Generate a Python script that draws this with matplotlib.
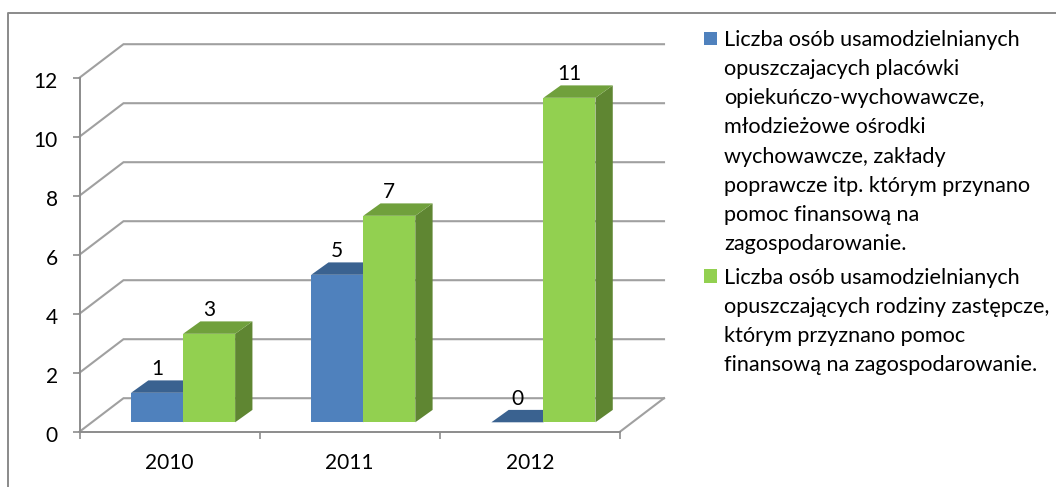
import matplotlib
matplotlib.use("Agg")
import matplotlib.pyplot as plt
import numpy as np
from matplotlib.patches import Polygon, Rectangle
from matplotlib.lines import Line2D
from matplotlib.transforms import IdentityTransform, ScaledTranslation

years = ["2010", "2011", "2012"]
series_a = [1, 5, 0]
series_b = [3, 7, 11]
label_a = ("Liczba osób usamodzielnianych\nopuszczajacych placówki\nopiekuńczo-wychowawcze,\n"
           "młodzieżowe ośrodki\nwychowawcze, zakłady\npoprawcze itp. którym przynano\n"
           "pomoc finansową na\nzagospodarowanie.")
label_b = ("Liczba osób usamodzielnianych\nopuszczających rodziny zastępcze,\n"
           "którym przyznano pomoc\nfinansową na zagospodarowanie.")
y_ticks = [0, 2, 4, 6, 8, 10, 12]

W, H = 1056, 487
plt.rcParams["font.family"] = ["Lato", "DejaVu Sans"]
FS = 15.0
FS_LEG = 15.6
GRID = "#A0A0A0"
AXC = "#8C8C8C"
BLUE, GREEN = "#4F81BD", "#92D050"

fig = plt.figure(figsize=(W / 100, H / 100), dpi=100)
fig.patch.set_facecolor("white")
L, R, B0, T = 79.5, 620.0, 431.7, 77.7
ax = fig.add_axes([L / W, (H - B0) / H, (R - L) / W, (B0 - T) / H])
ax.set_xlim(0, 3)
ax.set_ylim(0, 12)
ax.patch.set_alpha(0)

# outer frame, open at the bottom and on the right
fig.add_artist(Line2D([7.5 / W, 7.5 / W, 1], [0, (H - 12.5) / H, (H - 12.5) / H],
                      transform=fig.transFigure, color="#8A8A8A", lw=1.4))

ident = IdentityTransform()
DX, DY = 44.0, 33.5          # depth of the chart box, px
BX, BY = 13.5, 9.4           # front plane of the bars, px
SX, SY = 17.3, 12.4          # depth of a bar, px


def pt(x, v, dx=0.0, dy=0.0):
    px, py = ax.transData.transform((x, v))
    return (px + dx, py + dy)


def grid_line(points):
    ax.add_line(Line2D([p[0] for p in points], [p[1] for p in points], transform=ident,
                       color=GRID, lw=1.5, clip_on=False, zorder=1, solid_joinstyle="miter"))


for v in y_ticks:
    grid_line([pt(0, v), pt(0, v, DX, DY), pt(3, v, DX, DY)])
grid_line([pt(3, 0), pt(3, 0, DX, DY)])


def bar3d(x0, x1, v, front, top, side, z):
    o = (BX, BY)
    s = (BX + SX, BY + SY)
    if v > 0:
        ax.add_patch(Polygon([pt(x1, 0, *o), pt(x1, 0, *s), pt(x1, v, *s), pt(x1, v, *o)],
                             transform=ident, fc=side, ec="none", clip_on=False, zorder=z))
        ax.add_patch(Polygon([pt(x0, 0, *o), pt(x1, 0, *o), pt(x1, v, *o), pt(x0, v, *o)],
                             transform=ident, fc=front, ec="none", clip_on=False, zorder=z + 0.1))
    ax.add_patch(Polygon([pt(x0, v, *o), pt(x1, v, *o), pt(x1, v, *s), pt(x0, v, *s)],
                         transform=ident, fc=top, ec="none", clip_on=False, zorder=z + 0.2))


BW = 52 / 180
xc = np.arange(len(years)) + 0.5
for i in range(len(years)):
    a, b = series_a[i], series_b[i]
    bar3d(xc[i] - BW, xc[i], a, BLUE, "#3A6290", "#37608F", 3)
    bar3d(xc[i], xc[i] + BW, b, GREEN, "#70A03C", "#5F8632", 4)
    for x, v in ((xc[i] - BW / 2, a), (xc[i] + BW / 2, b)):
        px, py = pt(x, v, BX, BY)
        ax.text(px, py + 23.5, str(v), transform=ident, ha="center", va="center",
                fontsize=FS, color="black", zorder=6, clip_on=False)

for s in ("top", "right"):
    ax.spines[s].set_visible(False)
for s in ("left", "bottom"):
    ax.spines[s].set_color(AXC)
    ax.spines[s].set_linewidth(1.4)
    ax.spines[s].set_zorder(2)

ax.set_yticks(y_ticks)
ax.set_yticklabels([str(v) for v in y_ticks], fontsize=FS, color="black")
ax.set_xticks([0, 1, 2, 3])
ax.set_xticklabels([])
ax.set_xticks(xc, minor=True)
ax.set_xticklabels(years, minor=True, fontsize=FS, color="black")
ax.tick_params(axis="y", length=5, width=1.2, color=AXC, pad=10.5)
ax.tick_params(axis="x", which="major", length=5, width=1.2, color=AXC)
ax.tick_params(axis="x", which="minor", length=0, pad=15.5)
shift_down = ScaledTranslation(0, -1.5 / 72, fig.dpi_scale_trans)
for lab in ax.get_yticklabels():
    lab.set_transform(lab.get_transform() + shift_down)

# legend: swatch beside the first line of each wrapped label
for label, color, sw_top, txt_top in ((label_a, BLUE, 31.7, 29.5), (label_b, GREEN, 269.0, 267.5)):
    fig.add_artist(Rectangle((704 / W, (H - sw_top - 13.7) / H), 12.7 / W, 13.7 / H,
                             transform=fig.transFigure, fc=color, ec="none"))
    fig.text(724 / W, (H - txt_top) / H, label, ha="left", va="top", fontsize=FS_LEG,
             color="black", linespacing=1.58)

fig.savefig("out.png", dpi=100)
